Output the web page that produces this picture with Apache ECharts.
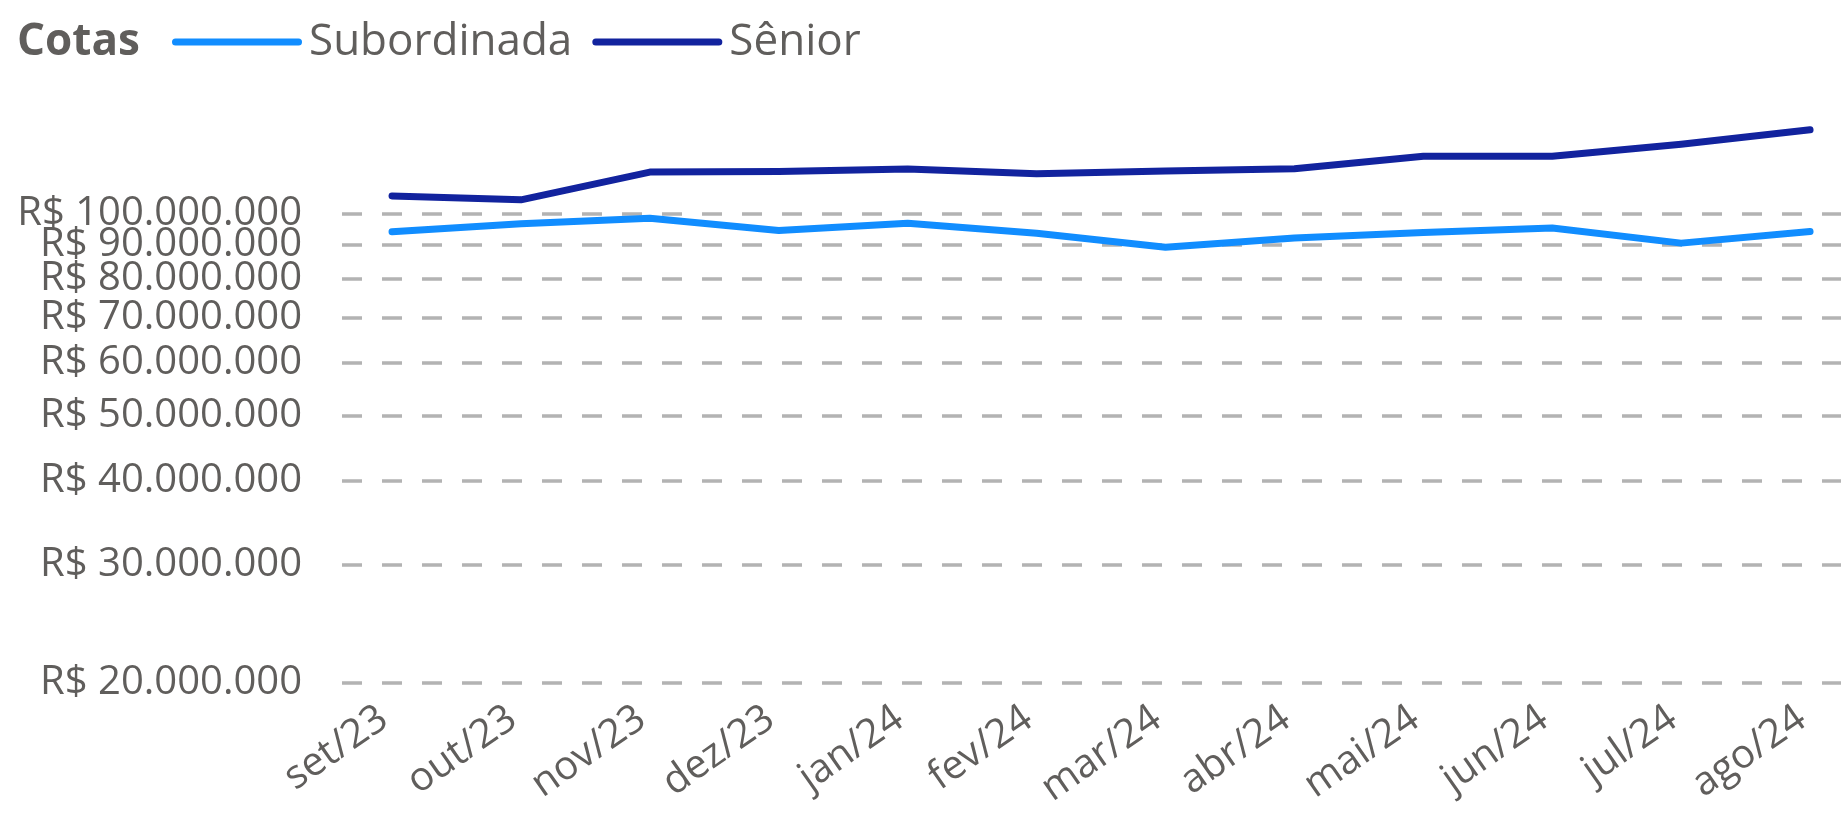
<!DOCTYPE html>
<html>
<head>
<meta charset="utf-8">
<script src="https://cdn.jsdelivr.net/npm/echarts@6/dist/echarts.min.js"></script>
<style>
html,body{margin:0;padding:0;background:#fff;}
#chart{width:1841px;height:823px;}
</style>
</head>
<body>
<div id="chart"></div>
<script>
const categories = ['set/23','out/23','nov/23','dez/23','jan/24','fev/24','mar/24','abr/24','mai/24','jun/24','jul/24','ago/24'];
const subordinada = [94.1e6, 96.7e6, 98.6e6, 94.5e6, 96.9e6, 93.6e6, 89.2e6, 92.1e6, 93.9e6, 95.3e6, 90.5e6, 94.2e6];
const senior = [106.4e6, 105.0e6, 115.5e6, 115.7e6, 116.7e6, 114.8e6, 115.9e6, 116.8e6, 121.9e6, 121.9e6, 127.1e6, 133.5e6];
const yTicks = [20e6, 30e6, 40e6, 50e6, 60e6, 70e6, 80e6, 90e6, 100e6];
const legendTitle = 'Cotas';
const seriesNames = ['Subordinada', 'Sênior'];

const FONT = '"Open Sans", "Noto Sans", sans-serif';
const TXT = '#605E5C';
function brl(v) {
  return 'R$ ' + String(Math.round(v)).replace(/\B(?=(\d{3})+(?!\d))/g, '.');
}
const xIdx = categories.map((c, i) => i);
// split labels over two stacked axes so that ECharts does not drop overlapping neighbours
const yLabelsA = yTicks.filter((v, i) => i % 2 === 0);
const yLabelsB = yTicks.filter((v, i) => i % 2 === 1);

function yAxisBase(labels, withGrid) {
  return {
    type: 'log', logBase: 10,
    min: 20e6, max: 140e6,
    position: 'left', offset: 0,
    axisLine: { show: false },
    axisTick: { show: false, customValues: withGrid ? yTicks : labels },
    axisLabel: {
      customValues: labels,
      formatter: v => brl(v),
      margin: 40,
      hideOverlap: false,
      showMinLabel: true, showMaxLabel: true,
      fontFamily: FONT, fontSize: 40, color: TXT
    },
    splitLine: {
      show: withGrid,
      lineStyle: { color: '#B3B3B3', width: 3.5, type: [20, 20] }
    }
  };
}

const chart = echarts.init(document.getElementById('chart'));
chart.setOption({
  animation: false,
  backgroundColor: '#ffffff',
  title: {
    text: legendTitle,
    left: 12, top: 11,
    textStyle: { fontFamily: FONT, fontSize: 44, fontWeight: 'bold', color: TXT, lineHeight: 52 }
  },
  legend: {
    left: 167, top: 11,
    itemWidth: 130, itemHeight: 7, itemGap: 20,
    icon: 'path://M3.5,0 L126.5,0 A3.5,3.5 0 0 1 126.5,7 L3.5,7 A3.5,3.5 0 0 1 3.5,0 Z',
    textStyle: { fontFamily: FONT, fontSize: 44, color: TXT, padding: [0, 0, 0, 2], lineHeight: 52 },
    data: seriesNames
  },
  grid: { left: 342, right: 0, top: 116, height: 567, containLabel: false },
  xAxis: {
    type: 'value',
    min: -0.388, max: 11.24,
    axisLine: { show: false },
    axisTick: { show: false, customValues: xIdx },
    splitLine: { show: false },
    axisLabel: {
      customValues: xIdx,
      formatter: v => categories[Math.round(v)],
      rotate: 35,
      margin: 26,
      padding: [0, 10, 0, 0],
      hideOverlap: false,
      showMinLabel: true, showMaxLabel: true,
      fontFamily: FONT, fontSize: 40, color: TXT
    }
  },
  yAxis: [yAxisBase(yLabelsA, true), yAxisBase(yLabelsB, false)],
  series: [
    {
      name: seriesNames[0], type: 'line', yAxisIndex: 0,
      data: subordinada.map((v, i) => [i, v]),
      showSymbol: false, symbol: 'none',
      itemStyle: { color: '#118DFF' },
      lineStyle: { color: '#118DFF', width: 7, cap: 'round', join: 'round' }
    },
    {
      name: seriesNames[1], type: 'line', yAxisIndex: 0,
      data: senior.map((v, i) => [i, v]),
      showSymbol: false, symbol: 'none',
      itemStyle: { color: '#12239E' },
      lineStyle: { color: '#12239E', width: 7, cap: 'round', join: 'round' }
    }
  ]
});
</script>
</body>
</html>
